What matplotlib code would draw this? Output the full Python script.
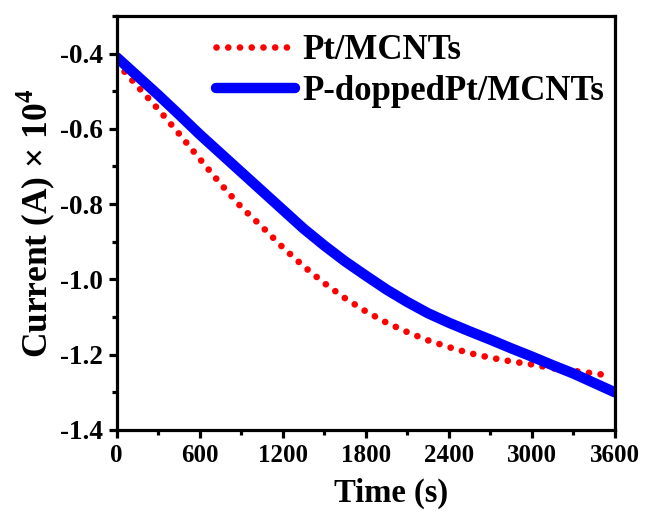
import matplotlib
matplotlib.use("Agg")
import matplotlib.pyplot as plt
from matplotlib.ticker import MultipleLocator

# time (s) and current (A x 1e4)
t_pt = [0, 150, 300, 450, 600, 750, 900, 1050, 1200, 1350, 1500, 1650, 1800,
        1950, 2100, 2250, 2400, 2550, 2700, 2850, 3000, 3150, 3300, 3450, 3550]
i_pt = [-0.425, -0.487, -0.548, -0.613, -0.68, -0.746, -0.808, -0.86, -0.915,
        -0.965, -1.01, -1.05, -1.085, -1.115, -1.14, -1.162, -1.18, -1.196,
        -1.208, -1.218, -1.226, -1.236, -1.243, -1.25, -1.255]

t_ppt = [0, 150, 300, 450, 600, 750, 900, 1050, 1200, 1350, 1500, 1650, 1800,
         1950, 2100, 2250, 2400, 2550, 2700, 2850, 3000, 3150, 3300, 3450, 3600]
i_ppt = [-0.41, -0.46, -0.51, -0.562, -0.615, -0.665, -0.715, -0.765, -0.815,
         -0.865, -0.91, -0.952, -0.99, -1.027, -1.06, -1.09, -1.115, -1.138,
         -1.16, -1.183, -1.205, -1.228, -1.25, -1.275, -1.30]

labels = ["Pt/MCNTs", "P-doppedPt/MCNTs"]

plt.rcParams['font.family'] = 'Liberation Serif'
plt.rcParams['font.weight'] = 'bold'
plt.rcParams['mathtext.fontset'] = 'custom'
plt.rcParams['mathtext.rm'] = 'Liberation Serif'
plt.rcParams['mathtext.bf'] = 'Liberation Serif:bold'

fig = plt.figure(figsize=(6.45, 5.13), dpi=100)
ax = fig.add_axes([0.181, 0.162, 0.772, 0.807])

ax.plot(t_pt, i_pt, color='#ff0000', lw=4.8, linestyle=(0, (0.01, 1.75)),
        dash_capstyle='round', label=labels[0])
ax.plot(t_ppt, i_ppt, color='#0000ff', lw=7.5, solid_capstyle='round',
        solid_joinstyle='round', label=labels[1])

ax.set_xlim(0, 3600)
ax.set_ylim(-1.4, -0.3)
ax.xaxis.set_major_locator(MultipleLocator(600))
ax.xaxis.set_minor_locator(MultipleLocator(300))
ax.yaxis.set_minor_locator(MultipleLocator(0.1))
ax.set_yticks([-1.4, -1.2, -1.0, -0.8, -0.6, -0.4])
ax.set_yticklabels(['-1.4', '-1.2', '-1.0', '-0.8', '-0.6', '-0.4'])

for s in ax.spines.values():
    s.set_linewidth(2.3)
ax.tick_params(which='major', direction='out', length=6, width=2.3,
               labelsize=18, top=False, right=False, pad=4)
ax.tick_params(axis='y', labelsize=19.5)
ax.tick_params(which='minor', direction='out', length=3.5, width=2.3,
               top=False, right=False)

ax.set_xlabel('Time (s)', fontsize=23.5, fontweight='bold')
ax.xaxis.set_label_coords(0.55, -0.115)
ax.set_ylabel(r'Current (A) $\times$ 10$^{\mathbf{4}}$', fontsize=25.5,
              fontweight='bold', labelpad=2)

ax.legend(loc='upper right', bbox_to_anchor=(1.0, 0.982), frameon=False,
          handlelength=2.3, handletextpad=0.2, labelspacing=0.25,
          borderaxespad=0.0, borderpad=0.3, prop={'weight': 'bold', 'size': 25})

fig.savefig('out.png', dpi=100)
